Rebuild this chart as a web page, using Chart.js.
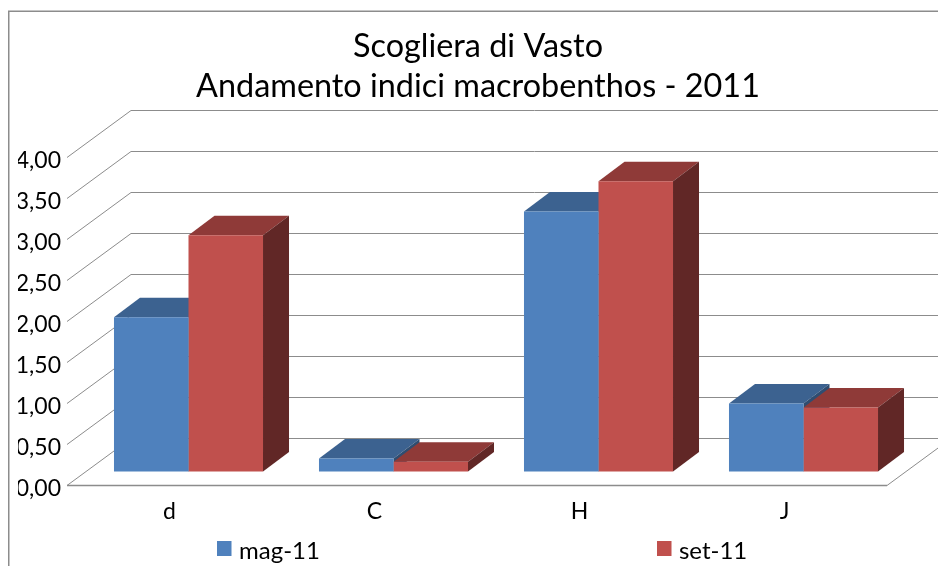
<!DOCTYPE html>
<html>
<head>
<meta charset="utf-8">
<style>html,body{margin:0;padding:0;background:#fff}#w{width:938px;height:566px}</style>
<script src="https://cdn.jsdelivr.net/npm/chart.js@4"></script>
</head>
<body>
<div id="w"><canvas id="c" width="938" height="566"></canvas></div>
<script>
const titleLines = ['Scogliera di Vasto', 'Andamento indici macrobenthos - 2011'];
const categories = ['d', 'C', 'H', 'J'];
const seriesNames = ['mag-11', 'set-11'];
const magValues = [1.88, 0.16, 3.17, 0.83];
const setValues = [2.88, 0.12, 3.54, 0.78];
const FONT = 'Lato, Carlito, sans-serif';

const WALL = {dx: 64, dy: -47};      // depth of the floor
const BAR = {ox: 19, oy: -13.5, dx: 26, dy: -19.5}; // position and depth of the bars in the floor
const GRID = '#8c8c8c';
const SWATCH = {x: [217, 657], y: 541, w: 14.5, h: 15};

const depth3d = {
  id: 'depth3d',
  beforeDraw(chart) {
    const c = chart.ctx;
    c.save();
    c.fillStyle = '#fff';
    c.fillRect(0, 0, chart.width, chart.height);
    c.strokeStyle = '#8c8c8c';
    c.lineWidth = 1.5;
    c.beginPath();
    c.moveTo(8.75, chart.height);
    c.lineTo(8.75, 11.25);
    c.lineTo(chart.width, 11.25);
    c.stroke();
    c.restore();
  },
  afterLayout(chart) {
    const t = chart.titleBlock;
    t.left = 18; t.right = 938;
    const l = chart.legend;
    const pad = l.options.labels.padding;
    l.left = 217 - pad;
    l.right = 4000;
    l.top = 539 - pad;
  },
  beforeDatasetsDraw(chart) {
    const c = chart.ctx, y = chart.scales.y, a = chart.chartArea;
    c.save();
    c.strokeStyle = GRID;
    c.lineWidth = 1;
    y.ticks.forEach(t => {
      const py = Math.round(y.getPixelForValue(t.value)) + 0.5;
      c.beginPath();
      c.moveTo(a.left, py);
      c.lineTo(a.left + WALL.dx, py + WALL.dy);
      c.lineTo(chart.width, py + WALL.dy);
      c.stroke();
    });
    const y0 = Math.round(y.getPixelForValue(0)) + 0.5;
    c.lineWidth = 1.5;
    c.beginPath();
    c.moveTo(a.left, y0);
    c.lineTo(a.right, y0);
    c.stroke();
    c.lineWidth = 1;
    c.beginPath();
    c.moveTo(a.right, y0);
    c.lineTo(a.right + WALL.dx, y0 + WALL.dy);
    c.stroke();
    c.restore();
    c.save();
    c.translate(BAR.ox, BAR.oy);
    // top and side faces, first series first; the library then paints the front faces
    chart.data.datasets.forEach((ds, i) => {
      chart.getDatasetMeta(i).data.forEach(b => {
        const p = b.getProps(['x', 'y', 'base', 'width'], true);
        const L = p.x - p.width / 2, R = p.x + p.width / 2;
        c.fillStyle = ds.topColor;
        c.beginPath();
        c.moveTo(L, p.y); c.lineTo(L + BAR.dx, p.y + BAR.dy);
        c.lineTo(R + BAR.dx, p.y + BAR.dy); c.lineTo(R, p.y);
        c.closePath(); c.fill();
        c.fillStyle = ds.sideColor;
        c.beginPath();
        c.moveTo(R, p.y); c.lineTo(R + BAR.dx, p.y + BAR.dy);
        c.lineTo(R + BAR.dx, p.base + BAR.dy); c.lineTo(R, p.base);
        c.closePath(); c.fill();
      });
    });
  },
  afterDatasetsDraw(chart) {
    chart.ctx.restore();
  },
  afterDraw(chart) {
    // legend swatches sit a little above the centre of their text, as in the original
    const c = chart.ctx;
    c.save();
    chart.data.datasets.forEach((ds, i) => {
      c.fillStyle = ds.backgroundColor;
      c.fillRect(SWATCH.x[i], SWATCH.y, SWATCH.w, SWATCH.h);
    });
    c.restore();
  }
};

new Chart(document.getElementById('c'), {
  type: 'bar',
  plugins: [depth3d],
  data: {
    labels: categories,
    datasets: [
      {label: seriesNames[0], data: magValues, backgroundColor: '#4f81bd', topColor: '#3c6290', sideColor: '#2f4d71', clip: false},
      {label: seriesNames[1], data: setValues, backgroundColor: '#c0504d', topColor: '#8f3a38', sideColor: '#612726', clip: false}
    ]
  },
  options: {
    responsive: false,
    animation: false,
    events: [],
    layout: {padding: {left: 18, right: 51, top: 0, bottom: 0}},
    datasets: {bar: {barPercentage: 1, categoryPercentage: 0.727}},
    plugins: {
      tooltip: {enabled: false},
      title: {
        display: true,
        text: titleLines,
        color: '#000',
        font: {family: FONT, size: 32.4, weight: 'normal', lineHeight: 40 / 32.4},
        padding: {top: 27, bottom: 50}
      },
      legend: {
        display: true,
        position: 'bottom',
        align: 'start',
        maxHeight: 33,
        labels: {
          boxWidth: 10, boxHeight: 10, padding: 337,
          color: '#000',
          font: {family: FONT, size: 24},
          generateLabels(chart) {
            return Chart.defaults.plugins.legend.labels.generateLabels(chart)
              .map(it => Object.assign(it, {lineWidth: 0, fillStyle: 'rgba(0,0,0,0)', strokeStyle: 'rgba(0,0,0,0)'}));
          }
        }
      }
    },
    scales: {
      x: {
        grid: {display: false},
        border: {display: false},
        ticks: {color: '#000', font: {family: FONT, size: 23}, padding: 5, maxRotation: 0},
        afterFit(s) { s.height = 48; }
      },
      y: {
        min: 0, max: 4,
        grid: {display: false, drawTicks: false},
        border: {display: false},
        ticks: {
          stepSize: 0.5,
          color: '#000',
          font: {family: FONT, size: 23},
          padding: 6,
          labelOffset: 4,
          callback: v => v.toFixed(2).replace('.', ',')
        },
        afterFit(s) { s.width = 49; }
      }
    }
  }
});
</script>
</body>
</html>
